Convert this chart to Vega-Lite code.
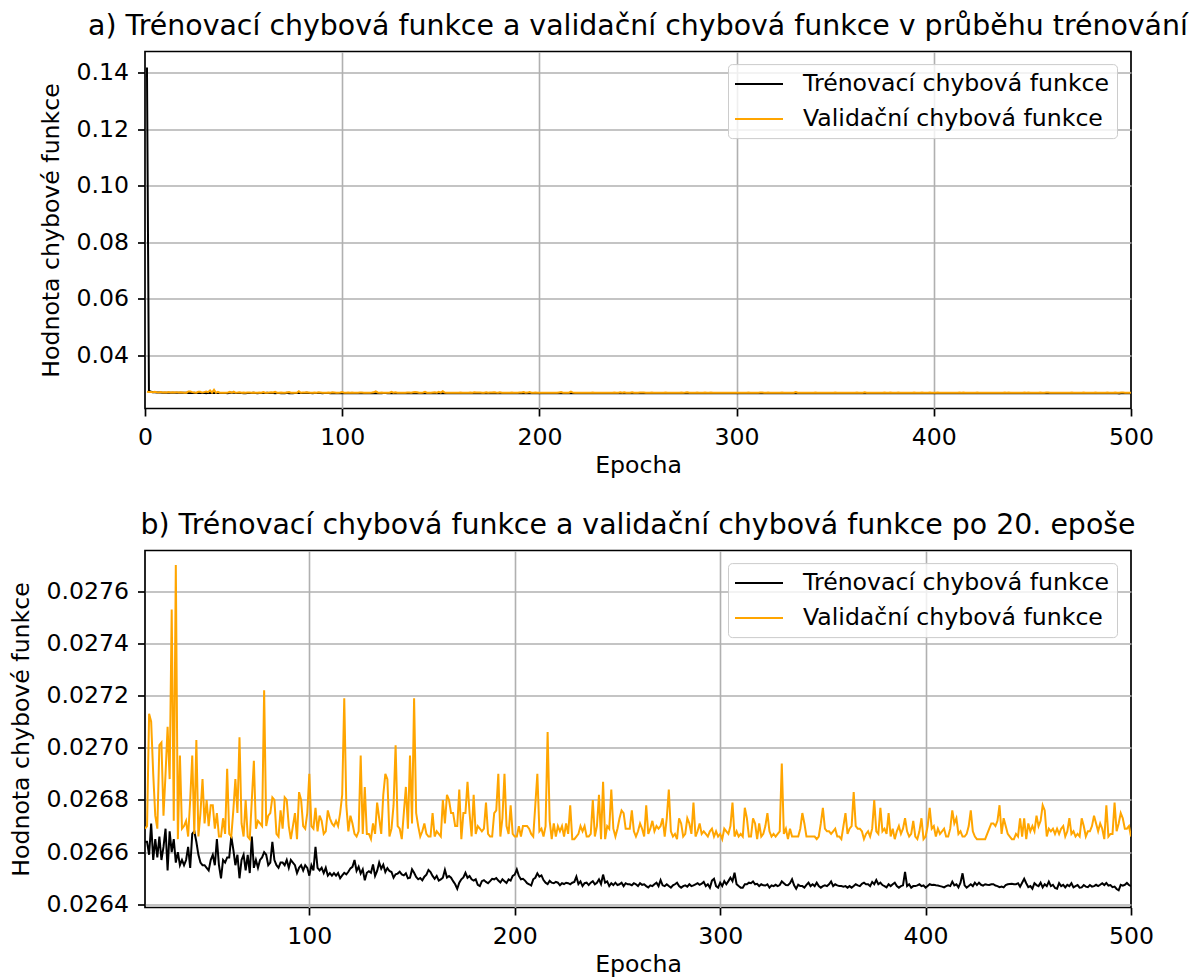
{
"$schema":"https://vega.github.io/schema/vega-lite/v6.json",
"background":"white",
"padding":{"left":9,"top":10.5,"right":10,"bottom":0},
"spacing":31,
"resolve":{"legend":{"color":"independent"}},
"config":{
 "font":"DejaVu Sans",
 "view":{"stroke":"black","strokeWidth":1.7},
 "axis":{"domain":false,"grid":true,"gridColor":"#b0b0b0","gridWidth":1.6,"ticks":true,"tickColor":"black","tickWidth":1.7,"tickSize":7.5,"labelFont":"DejaVu Sans","labelFontSize":23.6,"labelColor":"black","labelPadding":9,"labelFlush":false,"labelOverlap":false,"titleFont":"DejaVu Sans","titleFontSize":23.6,"titleFontWeight":"normal","titleColor":"black"},
 "axisX":{"titlePadding":5},
 "axisY":{"titlePadding":12},
 "title":{"font":"DejaVu Sans","fontSize":28.4,"fontWeight":"normal","color":"black","anchor":"middle","offset":10},
 "legend":{"title":null,"symbolType":"M-2,0H2","symbolSize":576,"symbolStrokeWidth":2,"symbolOffset":11,"labelOffset":31,"rowPadding":10,"padding":7,"fillColor":"rgba(255,255,255,0.8)","strokeColor":"#cccccc","cornerRadius":4,"labelFont":"DejaVu Sans","labelFontSize":23.6,"labelColor":"black","labelLimit":600}
},
"datasets":{"loss":[
{"e":1,"t":0.1418,"v":0.02705},{"e":2,"t":0.0274,"v":0.02695},{"e":3,"t":0.027,"v":0.0269},{"e":4,"t":0.02688,"v":0.02685},{"e":5,"t":0.02683,"v":0.027},{"e":6,"t":0.0268,"v":0.02688},{"e":7,"t":0.02676,"v":0.0268},{"e":8,"t":0.02675,"v":0.0269},{"e":9,"t":0.02672,"v":0.02678},{"e":10,"t":0.02671,"v":0.02685},
{"e":11,"t":0.0267,"v":0.02676},{"e":12,"t":0.02669,"v":0.02692},{"e":13,"t":0.02668,"v":0.02678},{"e":14,"t":0.02668,"v":0.02683},{"e":15,"t":0.02667,"v":0.02675},{"e":16,"t":0.02666,"v":0.02689},{"e":17,"t":0.02667,"v":0.02674},{"e":18,"t":0.02665,"v":0.02683},{"e":19,"t":0.02666,"v":0.02676},{"e":20,"t":0.02664,"v":0.02669},
{"e":21,"t":0.02664,"v":0.0267},{"e":22,"t":0.02659,"v":0.02713},{"e":23,"t":0.02671,"v":0.0271},{"e":24,"t":0.02657,"v":0.0269},{"e":25,"t":0.02665,"v":0.02674},{"e":26,"t":0.02658,"v":0.02669},{"e":27,"t":0.02666,"v":0.02701},{"e":28,"t":0.02657,"v":0.02702},{"e":29,"t":0.02662,"v":0.02674},{"e":30,"t":0.02669,"v":0.0269},
{"e":31,"t":0.02653,"v":0.02708},{"e":32,"t":0.02668,"v":0.02688},{"e":33,"t":0.0266,"v":0.02753},{"e":34,"t":0.02665,"v":0.02672},{"e":35,"t":0.02656,"v":0.0277},{"e":36,"t":0.0266,"v":0.02665},{"e":37,"t":0.02655,"v":0.02697},{"e":38,"t":0.02657,"v":0.02669},{"e":39,"t":0.02655,"v":0.0267},{"e":40,"t":0.02657,"v":0.02672},
{"e":41,"t":0.02662,"v":0.02666},{"e":42,"t":0.02654,"v":0.0268},{"e":43,"t":0.02667,"v":0.02697},{"e":44,"t":0.02668,"v":0.02667},{"e":45,"t":0.02664,"v":0.02703},{"e":46,"t":0.02659,"v":0.02666},{"e":47,"t":0.02656,"v":0.02675},{"e":48,"t":0.02655,"v":0.02688},{"e":49,"t":0.02655,"v":0.02671},{"e":50,"t":0.02654,"v":0.0268},
{"e":51,"t":0.02653,"v":0.0267},{"e":52,"t":0.02657,"v":0.02678},{"e":53,"t":0.02659,"v":0.02678},{"e":54,"t":0.02655,"v":0.02669},{"e":55,"t":0.02665,"v":0.02675},{"e":56,"t":0.02655,"v":0.02666},{"e":57,"t":0.0265,"v":0.02666},{"e":58,"t":0.02657,"v":0.02673},{"e":59,"t":0.02656,"v":0.02667},{"e":60,"t":0.02658,"v":0.02692},
{"e":61,"t":0.02658,"v":0.02667},{"e":62,"t":0.02666,"v":0.02666},{"e":63,"t":0.02661,"v":0.02676},{"e":64,"t":0.02655,"v":0.02688},{"e":65,"t":0.02659,"v":0.02675},{"e":66,"t":0.0265,"v":0.02704},{"e":67,"t":0.02657,"v":0.02671},{"e":68,"t":0.02659,"v":0.02666},{"e":69,"t":0.02653,"v":0.0268},{"e":70,"t":0.02659,"v":0.02666},
{"e":71,"t":0.02652,"v":0.02665},{"e":72,"t":0.02666,"v":0.0268},{"e":73,"t":0.02654,"v":0.02695},{"e":74,"t":0.02657,"v":0.02669},{"e":75,"t":0.02654,"v":0.02672},{"e":76,"t":0.02657,"v":0.02671},{"e":77,"t":0.02658,"v":0.0267},{"e":78,"t":0.0266,"v":0.02722},{"e":79,"t":0.02659,"v":0.0267},{"e":80,"t":0.02655,"v":0.02674},
{"e":81,"t":0.02656,"v":0.02675},{"e":82,"t":0.02664,"v":0.02681},{"e":83,"t":0.02657,"v":0.0268},{"e":84,"t":0.02655,"v":0.02667},{"e":85,"t":0.02654,"v":0.02666},{"e":86,"t":0.02656,"v":0.02676},{"e":87,"t":0.02656,"v":0.02669},{"e":88,"t":0.02655,"v":0.02681},{"e":89,"t":0.02657,"v":0.0268},{"e":90,"t":0.02654,"v":0.0267},
{"e":91,"t":0.02657,"v":0.02665},{"e":92,"t":0.02656,"v":0.0267},{"e":93,"t":0.02655,"v":0.02675},{"e":94,"t":0.02652,"v":0.02665},{"e":95,"t":0.02654,"v":0.02683},{"e":96,"t":0.02655,"v":0.0268},{"e":97,"t":0.02653,"v":0.0267},{"e":98,"t":0.02655,"v":0.02669},{"e":99,"t":0.02654,"v":0.02675},{"e":100,"t":0.02651,"v":0.0269},
{"e":101,"t":0.02655,"v":0.0267},{"e":102,"t":0.02653,"v":0.02669},{"e":103,"t":0.02662,"v":0.02677},{"e":104,"t":0.02654,"v":0.02668},{"e":105,"t":0.02653,"v":0.02674},{"e":106,"t":0.02654,"v":0.02672},{"e":107,"t":0.02652,"v":0.02667},{"e":108,"t":0.02654,"v":0.02668},{"e":109,"t":0.02651,"v":0.02676},{"e":110,"t":0.02652,"v":0.02673},
{"e":111,"t":0.02651,"v":0.02671},{"e":112,"t":0.02652,"v":0.0267},{"e":113,"t":0.02651,"v":0.02672},{"e":114,"t":0.02652,"v":0.0267},{"e":115,"t":0.0265,"v":0.02675},{"e":116,"t":0.026511,"v":0.02682},{"e":117,"t":0.026521,"v":0.02719},{"e":118,"t":0.026515,"v":0.02678},{"e":119,"t":0.026525,"v":0.02668},{"e":120,"t":0.026538,"v":0.02674},
{"e":121,"t":0.026544,"v":0.02671},{"e":122,"t":0.02657,"v":0.02667},{"e":123,"t":0.026528,"v":0.02666},{"e":124,"t":0.026544,"v":0.02668},{"e":125,"t":0.026518,"v":0.02697},{"e":126,"t":0.026534,"v":0.02667},{"e":127,"t":0.026492,"v":0.02685},{"e":128,"t":0.026521,"v":0.02667},{"e":129,"t":0.026527,"v":0.02667},{"e":130,"t":0.026521,"v":0.02665},
{"e":131,"t":0.026553,"v":0.02671},{"e":132,"t":0.026509,"v":0.02667},{"e":133,"t":0.026528,"v":0.02679},{"e":134,"t":0.02656,"v":0.02673},{"e":135,"t":0.026537,"v":0.02667},{"e":136,"t":0.026552,"v":0.02682},{"e":137,"t":0.026524,"v":0.0269},{"e":138,"t":0.026539,"v":0.02688},{"e":139,"t":0.026528,"v":0.02666},{"e":140,"t":0.026524,"v":0.02669},
{"e":141,"t":0.026502,"v":0.02678},{"e":142,"t":0.026515,"v":0.02701},{"e":143,"t":0.026518,"v":0.0267},{"e":144,"t":0.026525,"v":0.02669},{"e":145,"t":0.026515,"v":0.02665},{"e":146,"t":0.026511,"v":0.02675},{"e":147,"t":0.026519,"v":0.02685},{"e":148,"t":0.0265,"v":0.02669},{"e":149,"t":0.026502,"v":0.02697},{"e":150,"t":0.026534,"v":0.02671},
{"e":151,"t":0.026521,"v":0.02719},{"e":152,"t":0.026505,"v":0.02675},{"e":153,"t":0.026496,"v":0.0267},{"e":154,"t":0.026501,"v":0.02666},{"e":155,"t":0.026492,"v":0.02668},{"e":156,"t":0.026506,"v":0.02671},{"e":157,"t":0.026514,"v":0.02667},{"e":158,"t":0.026532,"v":0.02666},{"e":159,"t":0.026524,"v":0.02666},{"e":160,"t":0.026509,"v":0.02675},
{"e":161,"t":0.026498,"v":0.02666},{"e":162,"t":0.026509,"v":0.02668},{"e":163,"t":0.026491,"v":0.02667},{"e":164,"t":0.026496,"v":0.02666},{"e":165,"t":0.026502,"v":0.0268},{"e":166,"t":0.026532,"v":0.02671},{"e":167,"t":0.026503,"v":0.02682},{"e":168,"t":0.026509,"v":0.0268},{"e":169,"t":0.026502,"v":0.02675},{"e":170,"t":0.026489,"v":0.02675},
{"e":171,"t":0.026477,"v":0.0267},{"e":172,"t":0.02646,"v":0.0267},{"e":173,"t":0.026483,"v":0.02684},{"e":174,"t":0.026496,"v":0.02665},{"e":175,"t":0.026503,"v":0.02675},{"e":176,"t":0.026521,"v":0.02675},{"e":177,"t":0.026502,"v":0.02687},{"e":178,"t":0.026509,"v":0.02675},{"e":179,"t":0.026496,"v":0.02666},{"e":180,"t":0.026491,"v":0.02682},
{"e":181,"t":0.026496,"v":0.02667},{"e":182,"t":0.026475,"v":0.0267},{"e":183,"t":0.02647,"v":0.02669},{"e":184,"t":0.026489,"v":0.02668},{"e":185,"t":0.026493,"v":0.02669},{"e":186,"t":0.026486,"v":0.02679},{"e":187,"t":0.026481,"v":0.02667},{"e":188,"t":0.026489,"v":0.02666},{"e":189,"t":0.026498,"v":0.02666},{"e":190,"t":0.026496,"v":0.02675},
{"e":191,"t":0.026501,"v":0.02676},{"e":192,"t":0.026491,"v":0.0269},{"e":193,"t":0.026484,"v":0.02666},{"e":194,"t":0.026496,"v":0.02673},{"e":195,"t":0.026489,"v":0.0269},{"e":196,"t":0.026482,"v":0.0267},{"e":197,"t":0.026496,"v":0.02667},{"e":198,"t":0.026491,"v":0.02678},{"e":199,"t":0.026509,"v":0.02667},{"e":200,"t":0.026514,"v":0.02666},
{"e":201,"t":0.026534,"v":0.02666},{"e":202,"t":0.026509,"v":0.0267},{"e":203,"t":0.026496,"v":0.02666},{"e":204,"t":0.026498,"v":0.0267},{"e":205,"t":0.026491,"v":0.0267},{"e":206,"t":0.026481,"v":0.0267},{"e":207,"t":0.026477,"v":0.02669},{"e":208,"t":0.026472,"v":0.02667},{"e":209,"t":0.026496,"v":0.02666},{"e":210,"t":0.026502,"v":0.02678},
{"e":211,"t":0.026519,"v":0.0269},{"e":212,"t":0.026506,"v":0.02668},{"e":213,"t":0.026511,"v":0.02669},{"e":214,"t":0.026493,"v":0.02666},{"e":215,"t":0.026483,"v":0.0267},{"e":216,"t":0.026478,"v":0.02706},{"e":217,"t":0.02649,"v":0.02672},{"e":218,"t":0.026483,"v":0.02665},{"e":219,"t":0.026481,"v":0.02671},{"e":220,"t":0.026486,"v":0.02666},
{"e":221,"t":0.026483,"v":0.0267},{"e":222,"t":0.026473,"v":0.02668},{"e":223,"t":0.026481,"v":0.0267},{"e":224,"t":0.026478,"v":0.02666},{"e":225,"t":0.026483,"v":0.02671},{"e":226,"t":0.026481,"v":0.02667},{"e":227,"t":0.026477,"v":0.02678},{"e":228,"t":0.026483,"v":0.02665},{"e":229,"t":0.026486,"v":0.02665},{"e":230,"t":0.026506,"v":0.02666},
{"e":231,"t":0.026478,"v":0.02667},{"e":232,"t":0.026488,"v":0.0267},{"e":233,"t":0.02647,"v":0.02668},{"e":234,"t":0.026481,"v":0.0267},{"e":235,"t":0.026483,"v":0.02666},{"e":236,"t":0.026474,"v":0.02666},{"e":237,"t":0.026483,"v":0.02667},{"e":238,"t":0.026489,"v":0.0268},{"e":239,"t":0.026477,"v":0.02666},{"e":240,"t":0.026483,"v":0.0267},
{"e":241,"t":0.026496,"v":0.02682},{"e":242,"t":0.026478,"v":0.02665},{"e":243,"t":0.026514,"v":0.02687},{"e":244,"t":0.026483,"v":0.02665},{"e":245,"t":0.026488,"v":0.0267},{"e":246,"t":0.02647,"v":0.02669},{"e":247,"t":0.026481,"v":0.02684},{"e":248,"t":0.026474,"v":0.02669},{"e":249,"t":0.026483,"v":0.02666},{"e":250,"t":0.026474,"v":0.02669},
{"e":251,"t":0.026477,"v":0.02673},{"e":252,"t":0.026483,"v":0.02676},{"e":253,"t":0.02647,"v":0.02675},{"e":254,"t":0.026481,"v":0.02669},{"e":255,"t":0.026477,"v":0.02669},{"e":256,"t":0.026477,"v":0.02669},{"e":257,"t":0.026473,"v":0.02676},{"e":258,"t":0.026481,"v":0.02668},{"e":259,"t":0.026477,"v":0.02666},{"e":260,"t":0.02647,"v":0.02668},
{"e":261,"t":0.026481,"v":0.02671},{"e":262,"t":0.026475,"v":0.02669},{"e":263,"t":0.026477,"v":0.02666},{"e":264,"t":0.02647,"v":0.02678},{"e":265,"t":0.026465,"v":0.02667},{"e":266,"t":0.026473,"v":0.02669},{"e":267,"t":0.02647,"v":0.02672},{"e":268,"t":0.026477,"v":0.02668},{"e":269,"t":0.026483,"v":0.0267},{"e":270,"t":0.02647,"v":0.02669},
{"e":271,"t":0.026493,"v":0.0267},{"e":272,"t":0.026473,"v":0.02673},{"e":273,"t":0.02647,"v":0.02666},{"e":274,"t":0.026477,"v":0.02673},{"e":275,"t":0.02647,"v":0.02684},{"e":276,"t":0.026464,"v":0.02668},{"e":277,"t":0.026473,"v":0.02666},{"e":278,"t":0.026477,"v":0.02667},{"e":279,"t":0.026483,"v":0.02665},{"e":280,"t":0.02647,"v":0.02673},
{"e":281,"t":0.026464,"v":0.02671},{"e":282,"t":0.02647,"v":0.02666},{"e":283,"t":0.026473,"v":0.02667},{"e":284,"t":0.026468,"v":0.02673},{"e":285,"t":0.026477,"v":0.02671},{"e":286,"t":0.02647,"v":0.02667},{"e":287,"t":0.026473,"v":0.02679},{"e":288,"t":0.026477,"v":0.02666},{"e":289,"t":0.026481,"v":0.02668},{"e":290,"t":0.026475,"v":0.02671},
{"e":291,"t":0.026479,"v":0.02667},{"e":292,"t":0.026486,"v":0.02668},{"e":293,"t":0.02647,"v":0.02667},{"e":294,"t":0.026477,"v":0.02666},{"e":295,"t":0.026464,"v":0.02668},{"e":296,"t":0.026491,"v":0.02669},{"e":297,"t":0.026498,"v":0.02666},{"e":298,"t":0.02647,"v":0.02668},{"e":299,"t":0.026464,"v":0.02666},{"e":300,"t":0.026483,"v":0.02667},
{"e":301,"t":0.02647,"v":0.02665},{"e":302,"t":0.026489,"v":0.02669},{"e":303,"t":0.026477,"v":0.02668},{"e":304,"t":0.026489,"v":0.02667},{"e":305,"t":0.026502,"v":0.0267},{"e":306,"t":0.026489,"v":0.02679},{"e":307,"t":0.026521,"v":0.02666},{"e":308,"t":0.026477,"v":0.02668},{"e":309,"t":0.02647,"v":0.02666},{"e":310,"t":0.026464,"v":0.02667},
{"e":311,"t":0.026464,"v":0.02666},{"e":312,"t":0.026477,"v":0.02677},{"e":313,"t":0.026477,"v":0.02673},{"e":314,"t":0.026483,"v":0.02666},{"e":315,"t":0.026481,"v":0.02666},{"e":316,"t":0.026488,"v":0.02673},{"e":317,"t":0.026477,"v":0.02671},{"e":318,"t":0.026479,"v":0.02665},{"e":319,"t":0.02647,"v":0.02671},{"e":320,"t":0.026477,"v":0.02666},
{"e":321,"t":0.026473,"v":0.02667},{"e":322,"t":0.026472,"v":0.0267},{"e":323,"t":0.026477,"v":0.02675},{"e":324,"t":0.026464,"v":0.02668},{"e":325,"t":0.026473,"v":0.02666},{"e":326,"t":0.02647,"v":0.02667},{"e":327,"t":0.026475,"v":0.02666},{"e":328,"t":0.02647,"v":0.02667},{"e":329,"t":0.026474,"v":0.02668},{"e":330,"t":0.026488,"v":0.02694},
{"e":331,"t":0.026481,"v":0.02667},{"e":332,"t":0.026474,"v":0.02669},{"e":333,"t":0.026473,"v":0.02665},{"e":334,"t":0.026481,"v":0.02669},{"e":335,"t":0.026496,"v":0.02666},{"e":336,"t":0.026473,"v":0.02666},{"e":337,"t":0.02646,"v":0.02666},{"e":338,"t":0.026475,"v":0.02666},{"e":339,"t":0.02647,"v":0.02669},{"e":340,"t":0.02647,"v":0.02675},
{"e":341,"t":0.026464,"v":0.02671},{"e":342,"t":0.026475,"v":0.02666},{"e":343,"t":0.026483,"v":0.02666},{"e":344,"t":0.02647,"v":0.02666},{"e":345,"t":0.026477,"v":0.02666},{"e":346,"t":0.02647,"v":0.02666},{"e":347,"t":0.026483,"v":0.02665},{"e":348,"t":0.02647,"v":0.02666},{"e":349,"t":0.026464,"v":0.02671},{"e":350,"t":0.02647,"v":0.02677},
{"e":351,"t":0.026473,"v":0.02669},{"e":352,"t":0.02647,"v":0.02668},{"e":353,"t":0.026477,"v":0.02668},{"e":354,"t":0.026488,"v":0.02667},{"e":355,"t":0.02647,"v":0.02668},{"e":356,"t":0.026477,"v":0.02669},{"e":357,"t":0.026473,"v":0.02666},{"e":358,"t":0.02647,"v":0.02666},{"e":359,"t":0.02647,"v":0.02665},{"e":360,"t":0.026468,"v":0.0267},
{"e":361,"t":0.02647,"v":0.02675},{"e":362,"t":0.026464,"v":0.02667},{"e":363,"t":0.02647,"v":0.02669},{"e":364,"t":0.026464,"v":0.0267},{"e":365,"t":0.02647,"v":0.02683},{"e":366,"t":0.026477,"v":0.0267},{"e":367,"t":0.026473,"v":0.02669},{"e":368,"t":0.02647,"v":0.02669},{"e":369,"t":0.026479,"v":0.02668},{"e":370,"t":0.026483,"v":0.02665},
{"e":371,"t":0.026477,"v":0.02667},{"e":372,"t":0.026477,"v":0.02668},{"e":373,"t":0.02647,"v":0.02666},{"e":374,"t":0.026486,"v":0.02669},{"e":375,"t":0.026477,"v":0.0268},{"e":376,"t":0.026493,"v":0.02668},{"e":377,"t":0.026477,"v":0.02667},{"e":378,"t":0.026483,"v":0.02677},{"e":379,"t":0.026474,"v":0.02668},{"e":380,"t":0.02647,"v":0.02669},
{"e":381,"t":0.026465,"v":0.02667},{"e":382,"t":0.026477,"v":0.02675},{"e":383,"t":0.02647,"v":0.02666},{"e":384,"t":0.026477,"v":0.02669},{"e":385,"t":0.026483,"v":0.02665},{"e":386,"t":0.02647,"v":0.02668},{"e":387,"t":0.026464,"v":0.0267},{"e":388,"t":0.02647,"v":0.02667},{"e":389,"t":0.026473,"v":0.02669},{"e":390,"t":0.026524,"v":0.02673},
{"e":391,"t":0.02647,"v":0.02668},{"e":392,"t":0.026477,"v":0.02666},{"e":393,"t":0.026464,"v":0.02667},{"e":394,"t":0.02647,"v":0.02672},{"e":395,"t":0.02647,"v":0.02666},{"e":396,"t":0.026473,"v":0.02665},{"e":397,"t":0.026477,"v":0.02668},{"e":398,"t":0.02647,"v":0.02673},{"e":399,"t":0.026473,"v":0.02665},{"e":400,"t":0.026464,"v":0.02666},
{"e":401,"t":0.02647,"v":0.0267},{"e":402,"t":0.026477,"v":0.02677},{"e":403,"t":0.026474,"v":0.02669},{"e":404,"t":0.026475,"v":0.0267},{"e":405,"t":0.026473,"v":0.02666},{"e":406,"t":0.026472,"v":0.02669},{"e":407,"t":0.02647,"v":0.02667},{"e":408,"t":0.026468,"v":0.02668},{"e":409,"t":0.026465,"v":0.02669},{"e":410,"t":0.02647,"v":0.02666},
{"e":411,"t":0.026473,"v":0.02666},{"e":412,"t":0.02647,"v":0.02669},{"e":413,"t":0.026487,"v":0.02676},{"e":414,"t":0.026473,"v":0.02671},{"e":415,"t":0.026477,"v":0.02673},{"e":416,"t":0.026465,"v":0.02667},{"e":417,"t":0.026483,"v":0.02668},{"e":418,"t":0.026519,"v":0.02666},{"e":419,"t":0.026473,"v":0.02666},{"e":420,"t":0.026464,"v":0.02667},
{"e":421,"t":0.02647,"v":0.0267},{"e":422,"t":0.026477,"v":0.02676},{"e":423,"t":0.02647,"v":0.02668},{"e":424,"t":0.026483,"v":0.02666},{"e":425,"t":0.026474,"v":0.02665},{"e":426,"t":0.026483,"v":0.02665},{"e":427,"t":0.026475,"v":0.02665},{"e":428,"t":0.026472,"v":0.02665},{"e":429,"t":0.026477,"v":0.02665},{"e":430,"t":0.026475,"v":0.02667},
{"e":431,"t":0.026474,"v":0.02669},{"e":432,"t":0.026477,"v":0.02671},{"e":433,"t":0.026477,"v":0.02671},{"e":434,"t":0.026472,"v":0.0267},{"e":435,"t":0.02647,"v":0.02672},{"e":436,"t":0.026466,"v":0.02678},{"e":437,"t":0.026468,"v":0.02667},{"e":438,"t":0.026465,"v":0.02673},{"e":439,"t":0.026474,"v":0.0267},{"e":440,"t":0.026477,"v":0.02667},
{"e":441,"t":0.026478,"v":0.02666},{"e":442,"t":0.026479,"v":0.02665},{"e":443,"t":0.026477,"v":0.02665},{"e":444,"t":0.026477,"v":0.02667},{"e":445,"t":0.026481,"v":0.02666},{"e":446,"t":0.026468,"v":0.02673},{"e":447,"t":0.026483,"v":0.02666},{"e":448,"t":0.026498,"v":0.02673},{"e":449,"t":0.026481,"v":0.02665},{"e":450,"t":0.026466,"v":0.02671},
{"e":451,"t":0.02647,"v":0.02668},{"e":452,"t":0.02646,"v":0.0267},{"e":453,"t":0.026481,"v":0.02668},{"e":454,"t":0.026474,"v":0.02674},{"e":455,"t":0.02647,"v":0.0267},{"e":456,"t":0.026483,"v":0.02672},{"e":457,"t":0.026465,"v":0.02678},{"e":458,"t":0.026477,"v":0.02676},{"e":459,"t":0.02647,"v":0.02666},{"e":460,"t":0.026487,"v":0.02669},
{"e":461,"t":0.02647,"v":0.02668},{"e":462,"t":0.026475,"v":0.02669},{"e":463,"t":0.026463,"v":0.02667},{"e":464,"t":0.02646,"v":0.02669},{"e":465,"t":0.026481,"v":0.02667},{"e":466,"t":0.02647,"v":0.02669},{"e":467,"t":0.026475,"v":0.0267},{"e":468,"t":0.026465,"v":0.02666},{"e":469,"t":0.026475,"v":0.02668},{"e":470,"t":0.02647,"v":0.02673},
{"e":471,"t":0.026481,"v":0.02667},{"e":472,"t":0.026465,"v":0.02668},{"e":473,"t":0.02647,"v":0.02666},{"e":474,"t":0.026474,"v":0.02667},{"e":475,"t":0.026464,"v":0.02666},{"e":476,"t":0.026465,"v":0.02673},{"e":477,"t":0.026474,"v":0.0267},{"e":478,"t":0.026468,"v":0.02666},{"e":479,"t":0.026466,"v":0.02668},{"e":480,"t":0.026474,"v":0.02668},
{"e":481,"t":0.026468,"v":0.0267},{"e":482,"t":0.02647,"v":0.02674},{"e":483,"t":0.026475,"v":0.02671},{"e":484,"t":0.02647,"v":0.02668},{"e":485,"t":0.026475,"v":0.02671},{"e":486,"t":0.026481,"v":0.02669},{"e":487,"t":0.026474,"v":0.02665},{"e":488,"t":0.026482,"v":0.02678},{"e":489,"t":0.026472,"v":0.02666},{"e":490,"t":0.026474,"v":0.02667},
{"e":491,"t":0.026466,"v":0.02667},{"e":492,"t":0.026468,"v":0.02679},{"e":493,"t":0.026459,"v":0.02668},{"e":494,"t":0.026454,"v":0.02671},{"e":495,"t":0.026475,"v":0.02675},{"e":496,"t":0.026472,"v":0.02673},{"e":497,"t":0.026475,"v":0.02669},{"e":498,"t":0.026482,"v":0.02669},{"e":499,"t":0.026474,"v":0.0267},{"e":500,"t":0.02647,"v":0.02666}
]},
"vconcat":[
 {
  "title":"a) Trénovací chybová funkce a validační chybová funkce v průběhu trénování",
  "width":986,"height":357,
  "data":{"name":"loss"},
  "transform":[{"fold":["t","v"],"as":["s","y"]}],
  "mark":{"type":"line","strokeWidth":2,"clip":true},
  "encoding":{
   "x":{"field":"e","type":"quantitative","scale":{"domain":[0,500],"nice":false,"zero":false},
        "axis":{"title":"Epocha","values":[0,100,200,300,400,500],"gridColor":{"condition":{"test":"datum.value <= 0 || datum.value >= 500","value":"transparent"},"value":"#b0b0b0"}}},
   "y":{"field":"y","type":"quantitative","scale":{"domain":[0.0211,0.1475],"nice":false,"zero":false},
        "axis":{"title":"Hodnota chybové funkce","values":[0.04,0.06,0.08,0.1,0.12,0.14],"format":".2f"}},
   "color":{"field":"s","type":"nominal","scale":{"domain":["t","v"],"range":["#000000","#ffa500"]},
        "legend":{"orient":"none","legendX":583,"legendY":12.6,"labelExpr":"datum.label == 't' ? 'Trénovací chybová funkce' : 'Validační chybová funkce'"}}
  }
 },
 {
  "title":"b) Trénovací chybová funkce a validační chybová funkce po 20. epoše",
  "width":986,"height":357,
  "data":{"name":"loss"},
  "transform":[{"filter":"datum.e >= 20"},{"fold":["t","v"],"as":["s","y"]}],
  "mark":{"type":"line","strokeWidth":2,"clip":true},
  "encoding":{
   "x":{"field":"e","type":"quantitative","scale":{"domain":[20,500],"nice":false,"zero":false},
        "axis":{"title":"Epocha","values":[100,200,300,400,500],"gridColor":{"condition":{"test":"datum.value >= 500","value":"transparent"},"value":"#b0b0b0"}}},
   "y":{"field":"y","type":"quantitative","scale":{"domain":[0.026388,0.027756],"nice":false,"zero":false},
        "axis":{"title":"Hodnota chybové funkce","values":[0.0264,0.0266,0.0268,0.027,0.0272,0.0274,0.0276],"format":".4f"}},
   "color":{"field":"s","type":"nominal","scale":{"domain":["t","v"],"range":["#000000","#ffa500"]},
        "legend":{"orient":"none","legendX":583,"legendY":12.6,"labelExpr":"datum.label == 't' ? 'Trénovací chybová funkce' : 'Validační chybová funkce'"}}
  }
 }
]
}
